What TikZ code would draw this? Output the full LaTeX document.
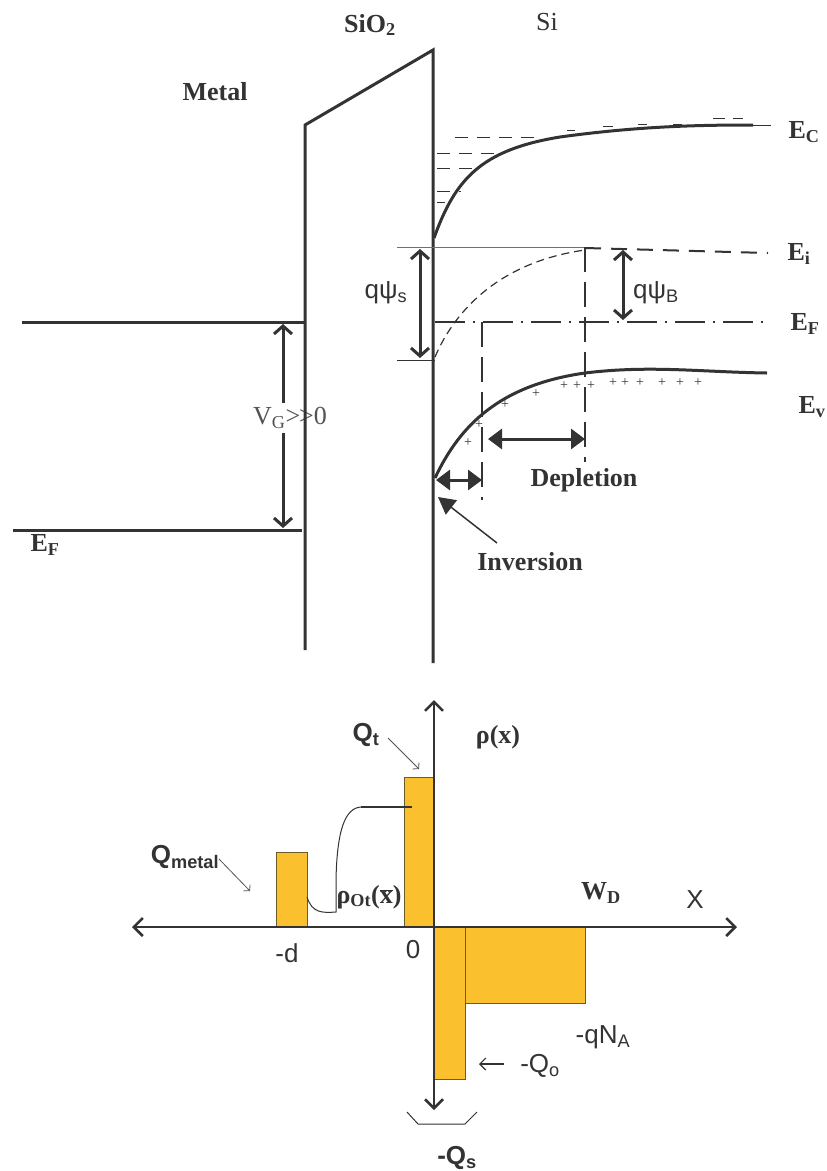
\documentclass[tikz,border=0pt]{standalone}
\usepackage{fontspec}
\setmainfont{Liberation Serif}
\setsansfont{Liberation Sans}
\usetikzlibrary{arrows.meta}
\definecolor{ink}{RGB}{51,51,51}
\definecolor{barfill}{RGB}{250,192,46}
\definecolor{baredge}{RGB}{105,92,40}
\newcommand{\lblsize}{\fontsize{26}{30}\selectfont}
\tikzset{
  bnd/.style   ={draw=ink, line width=3pt},
  fine/.style  ={draw=ink, line width=1pt},
  trapd/.style ={draw=ink, line width=1pt, dash pattern=on 13pt off 9pt},
  lbl/.style   ={font=\lblsize\bfseries, text=ink, inner sep=1pt},
  rlbl/.style  ={font=\lblsize, text=ink, inner sep=1pt},
  slbl/.style  ={font=\lblsize\sffamily, text=ink, inner sep=1pt},
  sblbl/.style ={font=\lblsize\sffamily\bfseries, text=ink, inner sep=1pt},
  pls/.style   ={font=\fontsize{14}{14}\selectfont, text=ink, inner sep=0pt},
  barb/.style  ={<->, >={Straight Barb[length=8pt,width=18pt]}, draw=ink, line width=3pt},
  tri/.style   ={<->, >={Triangle[length=14pt,width=20pt]}, draw=ink, line width=3pt},
  ptr/.style   ={-{Straight Barb[length=4pt,width=9pt]}, draw=ink!85, line width=0.8pt},
  chgbar/.style={fill=barfill, draw=baredge, line width=1pt},
}

\begin{document}
\begin{tikzpicture}[x=1pt, y=-1pt]
  \useasboundingbox (0,0) rectangle (827,1171);

  % metal side
  \draw[bnd] (22,322) -- (305,322);
  \draw[bnd] (13,530) -- (302,530);
  \coordinate (vgtop) at (283,324);
  \coordinate (vgbot) at (283,528);
  \draw[barb] (vgtop) -- (vgbot);
  \node[rlbl, text=ink!85, fill=white, inner sep=4pt] (vg) at (290,418) {V\textsubscript{G}\hbox{>}\kern-1pt\hbox{>}0};
  \node[lbl] (metal) at (215,92) {Metal};
  \node[lbl] (efmetal) at (45,545) {E\textsubscript{F}};

  % oxide
  \draw[bnd] (305,650) -- (305,125) -- (433,50) -- (433,663);
  \node[lbl] (sio) at (370,25) {SiO\textsubscript{2}};
  \node[rlbl] (si) at (547,22) {Si};

  % conduction band + electrons
  \draw[bnd] (434,238) .. controls (455,180) and (480,150) .. (560,137)
       .. controls (640,126) and (700,125) .. (753,125);
  \draw[fine] (753,125) -- (771,125);
  \draw[trapd] (455,137) -- (540,137);
  \draw[trapd] (437,153) -- (502,153);
  \draw[trapd] (437,168) -- (477,168);
  \draw[trapd] (437,191) -- (461,191);
  \draw[fine] (437,202) -- (445,202);
  \foreach \ax/\bx/\ey in {567/575/130, 603/613/126, 638/647/124, 673/682/124, 713/725/118, 733/743/118}
    \draw[fine] (\ax,\ey) -- (\bx,\ey);
  \node[lbl] (ec) at (804,132) {E\textsubscript{C}};

  % intrinsic level
  \draw[draw=ink!70, line width=1pt] (397,247) -- (585,247);
  \draw[draw=ink, line width=2pt, dash pattern=on 16pt off 10pt] (585,248) -- (768,253);
  \draw[draw=ink, line width=1.2pt, dash pattern=on 8pt off 5pt]
       (435,357) .. controls (455,310) and (500,262) .. (585,250);
  \node[lbl] (ei) at (799,254) {E\textsubscript{i}};

  % fermi level
  \draw[draw=ink, line width=1.3pt, dash pattern=on 30pt off 8pt on 2pt off 8pt] (435,322) -- (766,322);
  \node[lbl] (ef) at (805,324) {E\textsubscript{F}};

  % valence band
  \draw[bnd] (435,478) .. controls (460,425) and (500,385) .. (585,373)
       .. controls (650,365) and (700,372) .. (767,373);
  \node[lbl] (ev) at (812,407) {E\textsubscript{v}};
  \foreach \px/\py in {468/443, 479/425, 505/405, 536/394, 564/386, 577/386, 591/386,
                       613/383, 625/383, 640/383, 662/383, 680/383, 698/383}
    \node[pls] (p\px) at (\px,\py) {+};

  % region edges
  \draw[draw=ink, line width=2.6pt, dash pattern=on 25pt off 10pt] (482,322) -- (482,500);
  \draw[draw=ink, line width=2.6pt, dash pattern=on 25pt off 10pt] (585,247) -- (585,462);

  % surface potential
  \draw[fine] (397,360) -- (435,360);
  \coordinate (pstop) at (420,249);
  \coordinate (psbot) at (420,358);
  \draw[barb] (pstop) -- (psbot);
  \node[slbl] (psis) at (386,293) {qψ\textsubscript{s}};
  \coordinate (pbtop) at (623,250);
  \coordinate (pbbot) at (623,320);
  \draw[barb] (pbtop) -- (pbbot);
  \node[slbl] (psib) at (656,293) {qψ\textsubscript{B}};

  % depletion / inversion
  \coordinate (dpl) at (488,439);
  \coordinate (dpr) at (585,439);
  \draw[tri] (dpl) -- (dpr);
  \node[lbl] (depl) at (584,480) {Depletion};
  \coordinate (inl) at (436,480);
  \coordinate (inr) at (482,480);
  \draw[tri] (inl) -- (inr);
  \coordinate (intail) at (497,543);
  \coordinate (inhead) at (438,497);
  \draw[-{Triangle[length=17pt,width=18pt]}, draw=ink, line width=1.5pt] (intail) -- (inhead);
  \node[lbl] (inv) at (530,562) {Inversion};

  % charge bars
  \draw[chgbar] (276,852) rectangle (307,927);
  \draw[chgbar] (404,777) rectangle (434,927);
  \draw[chgbar] (434,927) rectangle (465,1079);
  \draw[chgbar] (465,927) rectangle (585,1003);

  % axes
  \coordinate (xl) at (132,927);
  \coordinate (xr) at (737,927);
  \coordinate (yt) at (434,700);
  \coordinate (yb) at (434,1110);
  \draw[<->, >={Straight Barb[length=9pt,width=18pt]}, draw=ink, line width=2.5pt] (xl) -- (xr);
  \draw[<->, >={Straight Barb[length=9pt,width=18pt]}, draw=ink, line width=2.5pt] (yt) -- (yb);

  % oxide charge profile
  \draw[fine] (307,897) .. controls (312,913) and (322,913) .. (336,912)
       -- (336,880) .. controls (337,830) and (345,808) .. (361,807);
  \draw[draw=ink, line width=1.6pt] (361,807) -- (412,807);

  % bottom labels
  \node[sblbl] (qt) at (366,735) {Q\textsubscript{t}};
  \coordinate (qta) at (388,738);
  \coordinate (qtb) at (419,769);
  \draw[ptr] (qta) -- (qtb);
  \node[sblbl] (qm) at (185,857) {Q\textsubscript{metal}};
  \coordinate (qma) at (219,859);
  \coordinate (qmb) at (250,891);
  \draw[ptr] (qma) -- (qmb);
  \node[lbl] (rho) at (498,737) {ρ(x)};
  \node[lbl] (rhoot) at (369,897) {ρ\textsubscript{Ot}($\overline{\hbox{x}}$)};
  \node[lbl] (wd) at (601,893) {W\textsubscript{D}};
  \node[slbl] (xax) at (695,900) {X};
  \node[slbl] (dd) at (287,953) {-d};
  \node[slbl] (zero) at (413,950) {0};
  \node[slbl] (qna) at (603,1037) {-qN\textsubscript{A}};
  \coordinate (qoa) at (504,1064);
  \coordinate (qob) at (479,1064);
  \draw[-{Straight Barb[length=6pt,width=12pt]}, draw=ink, line width=1.2pt] (qoa) -- (qob);
  \node[slbl] (qo) at (540,1066) {-Q\textsubscript{o}};
  \draw[fine] (407,1112) -- (418,1124) -- (465,1124) -- (477,1112);
  \node[sblbl] (qs) at (457,1158) {-Q\textsubscript{s}};
\end{tikzpicture}
\end{document}
